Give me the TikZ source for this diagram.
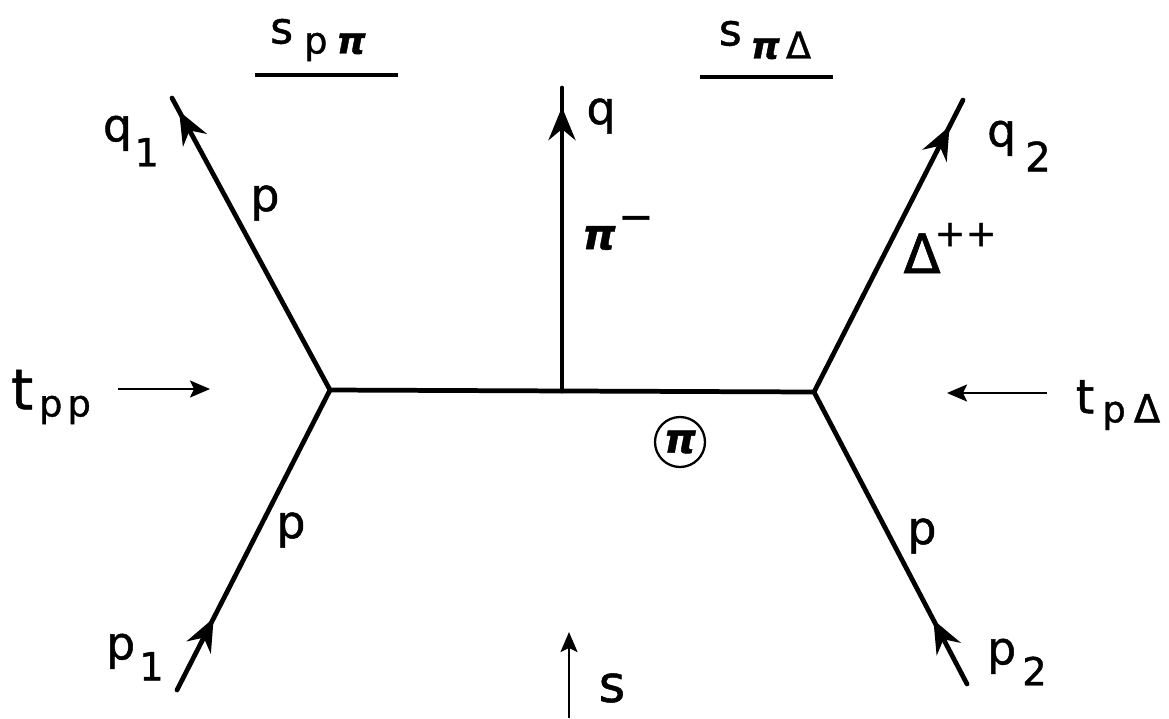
\documentclass[tikz,border=0pt]{standalone}
\usepackage{fontspec}
\setmainfont{DejaVu Sans}[FakeBold=1]
\usetikzlibrary{arrows.meta,decorations.markings}
\newcommand{\setfs}[1]{\fontsize{#1}{#1}\selectfont}
\newcommand{\pigl}{{\bfseries\itshape π}}

\begin{document}
\begin{tikzpicture}[x=0.02cm, y=-0.02cm,
    leg/.style={line width=2.7pt, line cap=round},
    tipat/.style={postaction={decorate}, decoration={markings,
        mark=at position #1 with {\arrow{Stealth[length=0.66cm, width=0.54cm, inset=0.22cm]}}}},
    flow/.style={-{Stealth[length=0.4cm, width=0.34cm, inset=0.08cm]}, line width=1.2pt},
    bar/.style={line width=1.8pt},
    lbl/.style={inner sep=0pt, font=\setfs{26}},
]
    \useasboundingbox (0,0) rectangle (1169,718);

    \coordinate (vL) at (330,390);
    \coordinate (vR) at (814,392);
    \coordinate (vM) at (562,391);
    \coordinate (qend) at (562,88);
    \coordinate (q1end) at (172,98);
    \coordinate (p1end) at (177,690);
    \coordinate (q2end) at (963,100);
    \coordinate (p2end) at (967,684);

    \coordinate (tppA) at (118,389);
    \coordinate (tppB) at (210,389);
    \coordinate (tpDA) at (1047,393);
    \coordinate (tpDB) at (947,393);
    \coordinate (sA) at (569,718);
    \coordinate (sB) at (569,632);

    \coordinate (ulA1) at (255,75);
    \coordinate (ulA2) at (398,75);
    \coordinate (ulB1) at (700,77);
    \coordinate (ulB2) at (833,77);

    \draw[leg] (vL) -- (vR);
    \draw[leg, tipat=0.937] (vM) -- (qend);
    \draw[leg, tipat=0.955] (vL) -- (q1end);
    \draw[leg, tipat=0.24] (p1end) -- (vL);
    \draw[leg, tipat=0.91] (vR) -- (q2end);
    \draw[leg, tipat=0.22] (p2end) -- (vR);

    \draw[flow] (tppA) -- (tppB);
    \draw[flow] (tpDA) -- (tpDB);
    \draw[flow] (sA) -- (sB);
    \draw[bar] (ulA1) -- (ulA2);
    \draw[bar] (ulB1) -- (ulB2);

    \node[lbl, font=\setfs{21}] (spp) at (318,40)
        {{\setfs{25}s}\hspace{0.22cm}\raisebox{-0.2cm}{p\hspace{0.18cm}\pigl}};
    \node[lbl, font=\setfs{21}] (spD) at (765,40)
        {{\setfs{25}s}\hspace{0.18cm}\raisebox{-0.26cm}{\pigl\hspace{0.12cm}Δ}};
    \node[lbl] (q1lbl) at (131,141) {q\hspace{0.05cm}\raisebox{-0.5cm}{\setfs{22}1}};
    \node[lbl] (qlbl) at (601,116) {q};
    \node[lbl] (q2lbl) at (1019,146) {q\hspace{0.18cm}\raisebox{-0.5cm}{\setfs{23}2}};
    \node[lbl] (pUL) at (265,203) {p};
    \node[lbl, font=\setfs{24}] (pimlbl) at (618,233)
        {\pigl\hspace{0.05cm}\raisebox{0.36cm}{−}};
    \node[lbl] (Dlbl) at (950,248)
        {{\setfs{31}Δ}\hspace{-0.12cm}\raisebox{0.54cm}{\setfs{21}++}};
    \node[lbl] (tpp) at (51,397)
        {{\setfs{32}t}\hspace{0.12cm}\raisebox{-0.14cm}{\setfs{21}p\hspace{0.1cm}p}};
    \node[lbl] (tpD) at (1118,405)
        {{\setfs{27}t}\hspace{0.16cm}\raisebox{-0.18cm}{\setfs{21}p\hspace{0.16cm}{\setfs{22}Δ}}};
    \node[circle, draw, line width=1.3pt, minimum size=1cm, inner sep=0pt,
        font=\setfs{23}] (piC) at (680,442) {\pigl};
    \node[lbl] (pLL) at (291,530) {p};
    \node[lbl] (pLR) at (922,536) {p};
    \node[lbl] (p1lbl) at (135,657) {p\hspace{0.08cm}\raisebox{-0.42cm}{\setfs{22}1}};
    \node[lbl] (p2lbl) at (1017,662) {p\hspace{0.12cm}\raisebox{-0.42cm}{\setfs{22}2}};
    \node[lbl, font=\setfs{29}] (slbl) at (612,688) {s};
\end{tikzpicture}
\end{document}
